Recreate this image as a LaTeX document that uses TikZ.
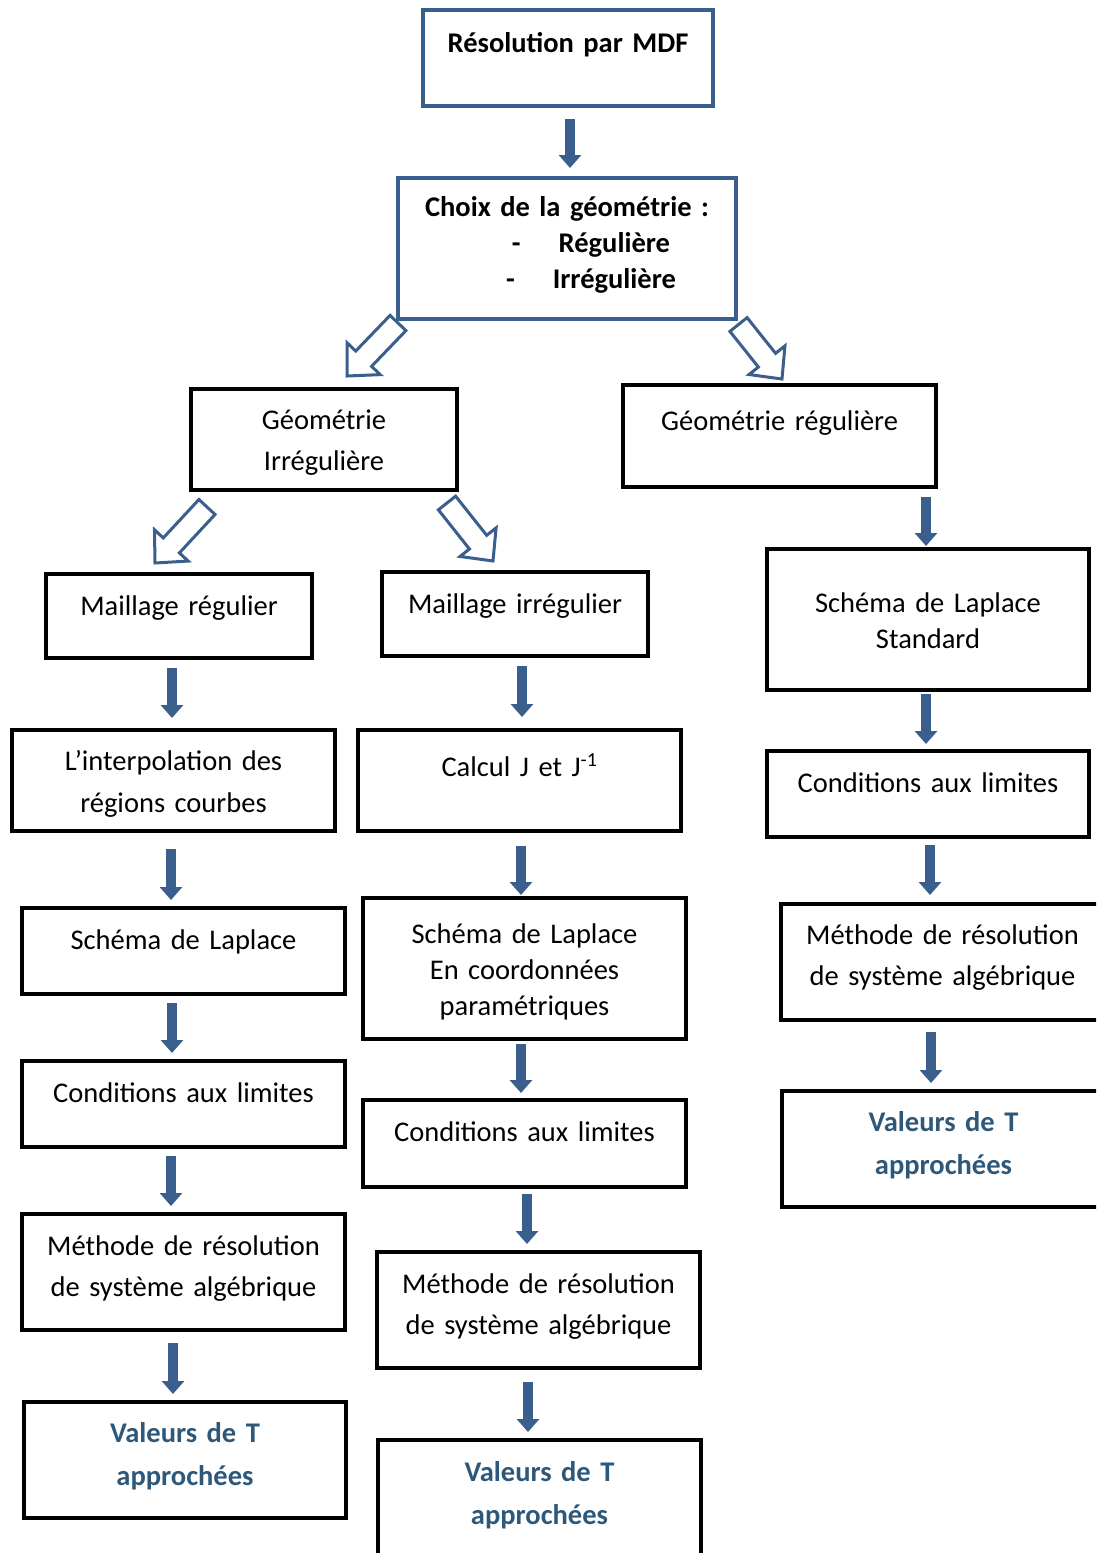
\documentclass[tikz,border=0pt]{standalone}
\usepackage{fontspec}
\setmainfont{Carlito}
\usetikzlibrary{calc, positioning}
\usetikzlibrary{arrows.meta}

\definecolor{mdfblue}{RGB}{58,95,140}
\definecolor{valblue}{RGB}{46,88,122}

\tikzset{
  box/.style n args={4}{draw, line width=4pt, inner sep=0pt, align=center,
    minimum width=#1pt, text width=#1pt, minimum height=#2pt,
    text height=#3pt, text depth=#4pt},
  bluebox/.style={draw=mdfblue, font=\fontsize{28.5}{36}\selectfont\bfseries},
  valbox/.style={text=valblue, font=\fontsize{28.5}{36}\selectfont\bfseries},
  flow/.style={draw=mdfblue, line width=10pt, -{Triangle[width=22pt,length=13pt]}},
  hollowline/.style={draw=mdfblue, line width=3pt, fill=white, line join=miter}
}

\newcommand{\hollowarrow}[2]{%
  \draw[hollowline] let \p1=#1, \p2=#2,
    \n1={atan2(\y2-\y1,\x2-\x1)}, \n2={veclen(\x2-\x1,\y2-\y1)-24} in
    ($(\p1)+(\n1-90:11)$) -- ($(\p1)+(\n1:\n2)+(\n1-90:11)$)
    -- ($(\p1)+(\n1:\n2)+(\n1-90:23)$) -- (\p2)
    -- ($(\p1)+(\n1:\n2)+(\n1+90:23)$) -- ($(\p1)+(\n1:\n2)+(\n1+90:11)$)
    -- ($(\p1)+(\n1+90:11)$) -- cycle;}

\begin{document}
\begin{tikzpicture}[x=1pt, y=1pt, font=\fontsize{28.5}{36}\selectfont]
\useasboundingbox (0,0) rectangle (1096,-1553);
\clip (0,0) rectangle (1096,-1553);

\node[box={290}{96}{42}{54}, bluebox] (MDF) at (568,-58) {Résolution par MDF};
\node[box={338}{141}{38}{103}, bluebox] (Choix) at (567,-248.5)
  {Choix de la géométrie :\\
   \hspace*{48pt}-\hspace{38pt}Régulière\\
   \hspace*{48pt}-\hspace{38pt}Irrégulière};

\node[box={266}{101}{40}{61}] (GI) at (324,-439.5) {Géométrie\\[5pt] Irrégulière};
\node[box={313}{102}{45}{57}] (GR) at (779.5,-436) {Géométrie régulière};

\node[box={266}{84}{41}{43}] (MR) at (179,-616) {Maillage régulier};
\node[box={266}{84}{41}{43}] (MI) at (515,-614) {Maillage irrégulier};
\node[box={322}{141}{63}{78}] (LS) at (928,-619.5) {Schéma de Laplace\\ Standard};

\node[box={323}{101}{40}{61}] (Interp) at (173.5,-780.5) {L’interpolation des\\[6pt] régions courbes};
\node[box={323}{101}{46}{55}] (Calc) at (519.5,-780.5) {Calcul J et J\textsuperscript{-1}};
\node[box={322}{86}{41}{45}] (CondR) at (928,-794) {Conditions aux limites};

\node[box={323}{86}{41}{45}] (LapL) at (183.5,-951) {Schéma de Laplace};
\node[box={323}{141}{45}{96}] (LapP) at (524.5,-968.5) {Schéma de Laplace\\ En coordonnées\\ paramétriques};
\node[box={323}{116}{40}{76}] (MethR) at (942.5,-962) {Méthode de résolution\\[5pt] de système algébrique};

\node[box={323}{86}{41}{45}] (CondL) at (183.5,-1104) {Conditions aux limites};
\node[box={323}{87}{41}{46}] (CondM) at (524.5,-1143.5) {Conditions aux limites};
\node[box={323}{116}{40}{76}, valbox] (ValR) at (943.5,-1149) {Valeurs de T\\[7pt] approchées};

\node[box={323}{116}{41}{75}] (MethL) at (183.5,-1272) {Méthode de résolution\\[5pt] de système algébrique};
\node[box={323}{116}{41}{75}] (MethM) at (538.5,-1310) {Méthode de résolution\\[5pt] de système algébrique};

\node[box={322}{116}{40}{76}, valbox] (ValL) at (185,-1460) {Valeurs de T\\[7pt] approchées};
\node[box={323}{116}{41}{75}, valbox] (ValM) at (539.5,-1498) {Valeurs de T\\[7pt] approchées};

\draw[flow, shorten <=11pt, shorten >=8pt] ([xshift=2pt]MDF.south) -- ([xshift=3pt]Choix.north);
\draw[flow, shorten <=8pt, shorten >=1pt] ([xshift=146.5pt]GR.south) -- ([xshift=-2pt]LS.north);
\draw[flow, shorten <=8pt, shorten >=10pt] ([xshift=-7pt]MR.south) -- ([xshift=-1.5pt]Interp.north);
\draw[flow, shorten <=8pt, shorten >=11pt] ([xshift=7pt]MI.south) -- ([xshift=2.5pt]Calc.north);
\draw[flow, shorten <=2pt, shorten >=5pt] ([xshift=-2pt]LS.south) -- ([xshift=-2pt]CondR.north);
\draw[flow, shorten <=16pt, shorten >=6pt] ([xshift=-2.5pt]Interp.south) -- ([xshift=-12.5pt]LapL.north);
\draw[flow, shorten <=13pt, shorten >=1pt] ([xshift=1.5pt]Calc.south) -- ([xshift=-3.5pt]LapP.north);
\draw[flow, shorten <=6pt, shorten >=7pt] ([xshift=2pt]CondR.south) -- ([xshift=-12.5pt]MethR.north);
\draw[flow, shorten <=7pt, shorten >=6pt] ([xshift=-11.5pt]LapL.south) -- ([xshift=-11.5pt]CondL.north);
\draw[flow, shorten <=3pt, shorten >=5pt] ([xshift=-3.5pt]LapP.south) -- ([xshift=-3.5pt]CondM.north);
\draw[flow, shorten <=10pt, shorten >=6pt] ([xshift=-11.5pt]MethR.south) -- ([xshift=-12.5pt]ValR.north);
\draw[flow, shorten <=7pt, shorten >=6pt] ([xshift=-12.5pt]CondL.south) -- ([xshift=-12.5pt]MethL.north);
\draw[flow, shorten <=5pt, shorten >=6pt] ([xshift=2.5pt]CondM.south) -- ([xshift=-11.5pt]MethM.north);
\draw[flow, shorten <=11pt, shorten >=6pt] ([xshift=-10.5pt]MethL.south) -- ([xshift=-12pt]ValL.north);
\draw[flow, shorten <=12pt, shorten >=6pt] ([xshift=-10.5pt]MethM.south) -- ([xshift=-11.5pt]ValM.north);

\hollowarrow{($(Choix.south west)+(2,-2)$)}{($(GI.north)+(23,11)$)}
\hollowarrow{($(Choix.south east)+(0.5,-3.5)$)}{($(GR.north)+(2.5,4)$)}
\hollowarrow{($(GI.south west)+(18,-15)$)}{($(MR.north)+(-24,9)$)}
\hollowarrow{($(GI.south east)+(-12,-11)$)}{($(MI.north)+(-22,9)$)}
\end{tikzpicture}
\end{document}
